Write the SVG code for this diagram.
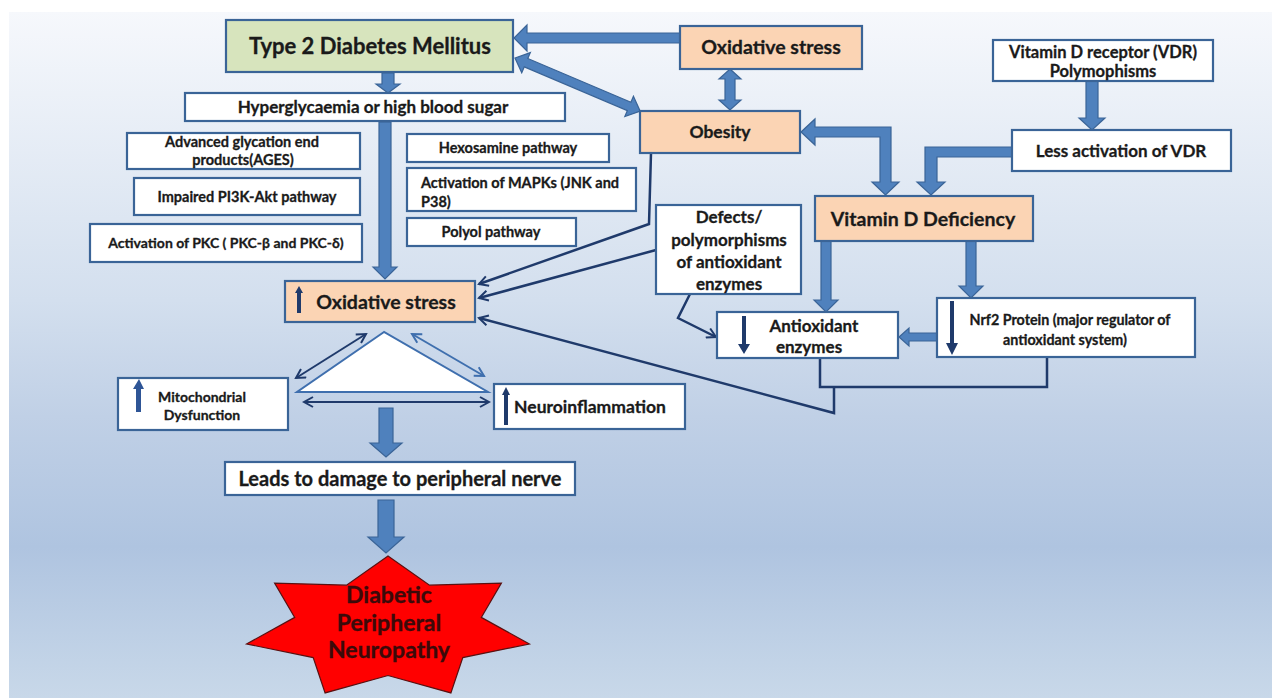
<svg xmlns="http://www.w3.org/2000/svg" width="1272" height="698" viewBox="0 0 1272 698">
<defs>
<linearGradient id="bg" x1="0" y1="0" x2="0" y2="1">
<stop offset="0" stop-color="#f6f8fc"/>
<stop offset="0.42" stop-color="#d3dfee"/>
<stop offset="0.59" stop-color="#c0d0e6"/>
<stop offset="0.78" stop-color="#afc4e0"/>
<stop offset="1" stop-color="#c8d8e9"/>
</linearGradient>
<marker id="oan" viewBox="0 0 12 12" refX="10" refY="6" markerWidth="12" markerHeight="12" markerUnits="userSpaceOnUse" orient="auto-start-reverse">
<path d="M1,1 L10,6 L1,11" fill="none" stroke="#1f3a6b" stroke-width="2"/>
</marker>
<marker id="oal" viewBox="0 0 12 12" refX="10" refY="6" markerWidth="12" markerHeight="12" markerUnits="userSpaceOnUse" orient="auto-start-reverse">
<path d="M1,1 L10,6 L1,11" fill="none" stroke="#3f6fae" stroke-width="2"/>
</marker>
</defs>
<style>
.bx{stroke:#3a6497;stroke-width:2.2}
.w{fill:#ffffff}
.p{fill:#fbd4b4}
.g{fill:#d7e4bd}
.t{font-family:Lato,"Liberation Sans",sans-serif;font-weight:bold;fill:#1a1a1a;stroke:#1a1a1a;stroke-width:0.3;text-anchor:middle}
.tl{font-family:Lato,"Liberation Sans",sans-serif;font-weight:bold;fill:#1a1a1a;stroke:#1a1a1a;stroke-width:0.3}
.ba{fill:#4f81bd;stroke:#3a6497;stroke-width:1.2}
.ic{fill:#1f3a6b}
.ln{fill:none;stroke:#1f3a6b;stroke-width:2.5}
</style>
<rect x="9" y="12" width="1263" height="686" fill="url(#bg)"/>

<g id="connectors">
<polygon class="ba" points="382,73 394,73 394,84 400,84 388,93 376,84 382,84"/>
<polygon class="ba" points="379,122 391,122 391,267 397,267 385,279 373,267 379,267"/>
<polygon class="ba" points="379,408 393,408 393,443 402,443 386,457 370,443 379,443"/>
<polygon class="ba" points="378,500 394,500 394,537 404,537 386,553 368,537 378,537"/>
<polygon class="ba" points="1086,81 1098,81 1098,118 1105,118 1092,130 1079,118 1086,118"/>
<polygon class="ba" points="821,241 831,241 831,300 838,300 826,312 814,300 821,300"/>
<polygon class="ba" points="966,241 976,241 976,286 983,286 971,298 959,286 966,286"/>
<polygon class="ba" points="680,33 680,43 527,43 527,51 514,38 527,25 527,33"/>
<polygon class="ba" points="937,333 937,341 909,341 909,346 899,337 909,328 909,333"/>
<polygon class="ba" points="730,69 741,79 735,79 735,100 741,100 730,110 719,100 725,100 725,79 719,79"/>
<polygon class="ba" transform="translate(515,58) rotate(23)" points="0,0 12,-11 12,-4.5 124,-4.5 124,-11 136,0 124,11 124,4.5 12,4.5 12,11"/>
<polygon class="ba" points="1012,147 1012,157 937,157 937,182 945,182 931,195 917,182 925,182 925,147"/>
<polygon class="ba" points="801,132 815,119 815,127 891,127 891,182 899,182 885.5,195 872,182 880,182 880,137 815,137 815,145"/>

<path class="ln" d="M651,153 L649,224 L479,284" marker-end="url(#oan)"/>
<path class="ln" d="M656,250 L479,298" marker-end="url(#oan)"/>
<path class="ln" d="M820,358 L820,387 L1047,387 L1047,358"/>
<path class="ln" d="M834,387 L834,413 L479,318" marker-end="url(#oan)"/>
<path class="ln" d="M690,294 L678,318 L716,337" marker-end="url(#oan)"/>

<path d="M296,378 L366,334" fill="none" stroke="#1f3a6b" stroke-width="2" marker-start="url(#oan)" marker-end="url(#oan)"/>
<path d="M412,334 L484,376" fill="none" stroke="#3f6fae" stroke-width="2" marker-start="url(#oal)" marker-end="url(#oal)"/>
<path d="M304,402 L489,402" fill="none" stroke="#1f3a6b" stroke-width="2" marker-start="url(#oan)" marker-end="url(#oan)"/>
</g>

<g id="t2dm">
<rect class="bx g" x="226" y="20" width="287" height="52"/>
<text class="t" x="370" y="54" font-size="22">Type 2 Diabetes Mellitus</text>
</g>
<g id="oxstress-top">
<rect class="bx p" x="680" y="26" width="182" height="43"/>
<text class="t" x="771" y="54" font-size="19.5">Oxidative stress</text>
</g>
<g id="vdr-poly">
<rect class="bx w" x="993" y="40" width="220" height="41"/>
<text class="t" x="1103" y="58" font-size="16.5">Vitamin D receptor (VDR)</text>
<text class="t" x="1103" y="77" font-size="16.5">Polymophisms</text>
</g>
<g id="hyper">
<rect class="bx w" x="185" y="93" width="380" height="28"/>
<text class="t" x="373" y="113" font-size="17">Hyperglycaemia or high blood sugar</text>
</g>
<g id="obesity">
<rect class="bx p" x="640" y="111" width="160" height="42"/>
<text class="t" x="720" y="138" font-size="17.5">Obesity</text>
</g>
<g id="less-vdr">
<rect class="bx w" x="1012" y="130" width="219" height="41"/>
<text class="t" x="1121" y="157" font-size="17">Less activation of VDR</text>
</g>
<g id="ages">
<rect class="bx w" x="127" y="133" width="233" height="36"/>
<text class="t" x="242" y="147" font-size="14.5">Advanced glycation end</text>
<text class="t" x="243" y="165" font-size="14.5">products(AGES)</text>
</g>
<g id="pi3k">
<rect class="bx w" x="134" y="178" width="226" height="37"/>
<text class="t" x="247" y="202" font-size="14.5">Impaired PI3K-Akt pathway</text>
</g>
<g id="pkc">
<rect class="bx w" x="90" y="224" width="272" height="38"/>
<text class="t" x="226" y="248" font-size="14">Activation of PKC ( PKC-β and PKC-δ)</text>
</g>
<g id="hexosamine">
<rect class="bx w" x="407" y="134" width="202" height="28"/>
<text class="t" x="508" y="153" font-size="14.5">Hexosamine pathway</text>
</g>
<g id="mapk">
<rect class="bx w" x="407" y="168" width="229" height="43"/>
<text class="tl" x="421" y="188" font-size="14.5">Activation of MAPKs (JNK and</text>
<text class="tl" x="421" y="207" font-size="14.5">P38)</text>
</g>
<g id="polyol">
<rect class="bx w" x="407" y="218" width="169" height="28"/>
<text class="t" x="491" y="237" font-size="14.5">Polyol pathway</text>
</g>
<g id="vitd">
<rect class="bx p" x="815" y="196" width="218" height="45"/>
<text class="t" x="923" y="226" font-size="19.5">Vitamin D Deficiency</text>
</g>
<g id="defects">
<rect class="bx w" x="656" y="205" width="145" height="89"/>
<text class="t" x="729" y="223" font-size="17">Defects/</text>
<text class="t" x="729" y="246" font-size="17">polymorphisms</text>
<text class="t" x="729" y="268" font-size="17">of antioxidant</text>
<text class="t" x="729" y="290" font-size="17">enzymes</text>
</g>
<g id="oxstress-mid">
<rect class="bx p" x="285" y="281" width="190" height="41"/>
<path class="ic" d="M299,286 L303,293 L301,293 L301,313 L297,313 L297,293 L295,293 Z"/>
<text class="t" x="386" y="309" font-size="19.5">Oxidative stress</text>
</g>
<g id="antiox">
<rect class="bx w" x="717" y="312" width="181" height="46"/>
<path class="ic" d="M742,316 L746,316 L746,344 L750,344 L744,354 L738,344 L742,344 Z"/>
<text class="t" x="814" y="332" font-size="17">Antioxidant</text>
<text class="t" x="809" y="353" font-size="17">enzymes</text>
</g>
<g id="nrf2">
<rect class="bx w" x="937" y="298" width="258" height="59"/>
<path class="ic" d="M950,301 L954,301 L954,343 L958,343 L952,355 L946,343 L950,343 Z"/>
<text class="t" x="1070" y="325" font-size="14.3">Nrf2 Protein  (major regulator of</text>
<text class="t" x="1065" y="345" font-size="14.3">antioxidant system)</text>
</g>
<g id="triangle">
<polygon points="384,332 297,392 488,392" fill="#ffffff" stroke="#3f6fae" stroke-width="2"/>
</g>
<g id="mito">
<rect class="bx w" x="118" y="378" width="170" height="52"/>
<path d="M139,379 L144,389 L141,389 L141,412 L136,412 L136,389 L133,389 Z" fill="#2e5596"/>
<text class="t" x="202" y="402" font-size="14">Mitochondrial</text>
<text class="t" x="202" y="420" font-size="14">Dysfunction</text>
</g>
<g id="neuro">
<rect class="bx w" x="494" y="384" width="191" height="45"/>
<path class="ic" d="M506,387 L510,395 L508,395 L508,425 L504,425 L504,395 L502,395 Z"/>
<text class="t" x="590" y="413" font-size="17.5">Neuroinflammation</text>
</g>
<g id="leads">
<rect class="bx w" x="225" y="462" width="350" height="33"/>
<text class="t" x="400" y="486" font-size="20">Leads to damage to peripheral nerve</text>
</g>
<g id="dpn">
<polygon points="388,556 429.5,585.2 501.4,583.1 481.3,617.4 529.4,644 462.8,657.6 450.9,692.9 388,675.5 325.1,692.9 313.2,657.6 246.6,644 294.7,617.4 274.6,583.1 346.5,585.2" fill="#ff0000" stroke="#5a1010" stroke-width="1.2"/>
<text class="t" x="389" y="603" font-size="23" style="fill:#3b0a0a;stroke:#3b0a0a">Diabetic</text>
<text class="t" x="389" y="631" font-size="23" style="fill:#3b0a0a;stroke:#3b0a0a">Peripheral</text>
<text class="t" x="389" y="658" font-size="23" style="fill:#3b0a0a;stroke:#3b0a0a">Neuropathy</text>
</g>
</svg>
